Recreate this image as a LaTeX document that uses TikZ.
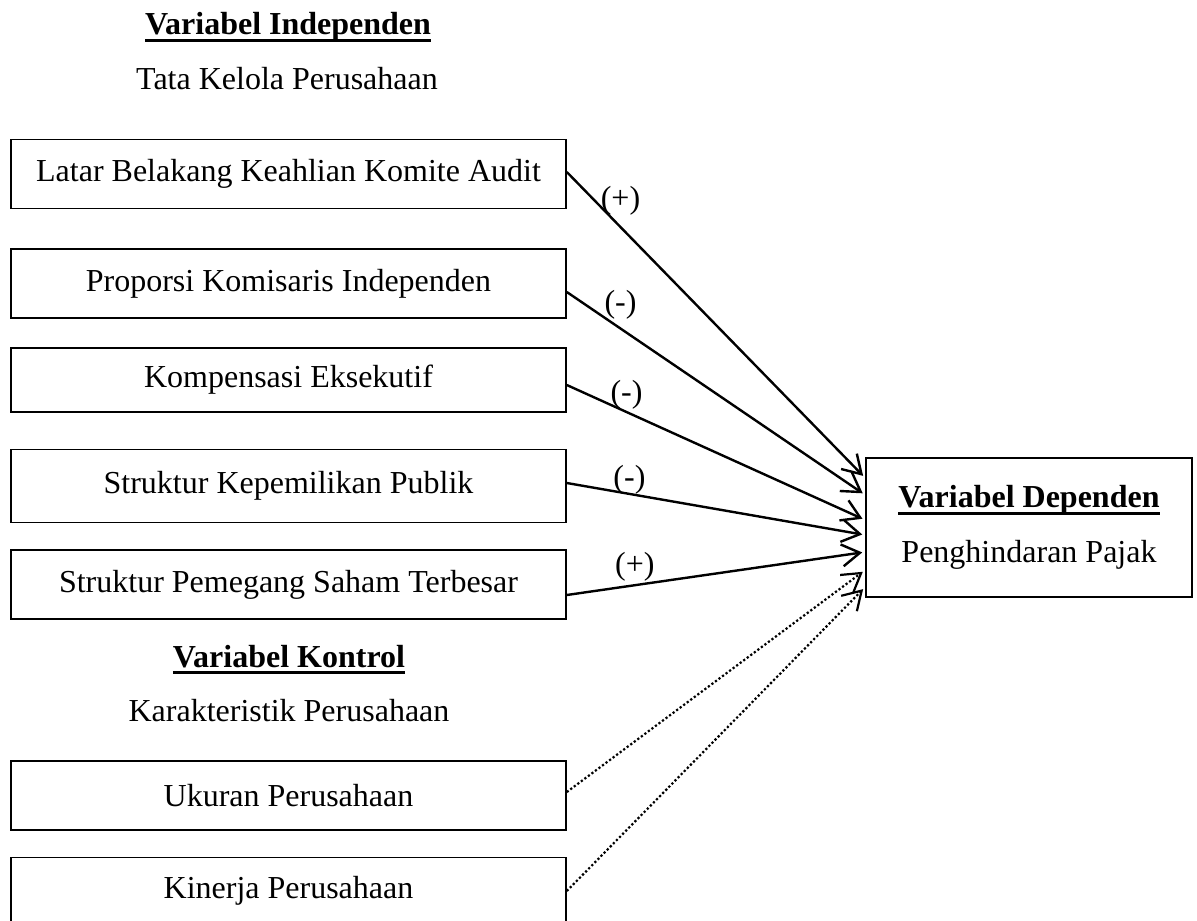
\documentclass[tikz,border=0pt]{standalone}
\usepackage{fontspec}
\setmainfont{Liberation Serif}
\usetikzlibrary{arrows.meta}

% underline sitting just below the baseline
\newcommand{\uword}[1]{\setbox0\hbox{#1}\rlap{\vrule width\wd0 height -2.2pt depth 3.5pt}\box0}

\tikzset{
  varbox/.style={draw,line width=0.8pt,minimum width=277.5pt,minimum height=34.5pt,inner sep=0pt},
  link/.style={-{Straight Barb[length=9pt,width=11pt]},line width=1.2pt,shorten >=1.5pt},
  ctrl/.style={link,line width=1.1pt,dash pattern=on 1.1pt off 1.1pt},
  sign/.style={inner sep=0pt},
}

\begin{document}
\begin{tikzpicture}[x=0.5pt,y=-0.5pt,font=\fontsize{16}{19}\selectfont]
\useasboundingbox (0,0) rectangle (1197,920);

% headings
\node[anchor=base] (indep) at (288,35) {\uword{\textbf{Variabel Independen}}};
\node[anchor=base] (tkp)   at (287,90) {Tata Kelola Perusahaan};
\node[anchor=base] (kontrol) at (289,667) {\uword{\textbf{Variabel Kontrol}}};
\node[anchor=base] (karak)   at (289,721) {Karakteristik Perusahaan};

% variables
\node[varbox] (audit) at (288.5,174) {Latar Belakang Keahlian Komite Audit};
\node[varbox] (komis) at (288.5,283.5) {Proporsi Komisaris Independen};
\node[varbox,minimum height=32pt] (kompen) at (288.5,380) {Kompensasi Eksekutif};
\node[varbox,minimum height=36.5pt] (publik) at (288.5,486) {Struktur Kepemilikan Publik};
\node[varbox] (saham) at (288.5,584.5) {Struktur Pemegang Saham Terbesar};
\node[varbox] (ukuran) at (288.5,795.5) {Ukuran Perusahaan};
\node[varbox,minimum height=33.5pt] (kinerja) at (288.5,891) {Kinerja Perusahaan};

\node[draw,line width=0.8pt,minimum width=163pt,minimum height=69.5pt,align=center,
      font=\fontsize{16}{27.5}\selectfont] (dep) at (1029,527.5)
  {\uword{\textbf{Variabel Dependen}}\\Penghindaran Pajak};

% hypotheses
\draw[link] ([yshift=1pt]audit.east) -- node[sign,pos=0.18,yshift=13pt] {(+)} ([yshift=24.75pt]dep.west);
\draw[link] ([yshift=-4.25pt]komis.east) -- node[sign,pos=0.18,yshift=12pt] {(-)} ([yshift=16.25pt]dep.west);
\draw[link] ([yshift=-2.5pt]kompen.east) -- node[sign,pos=0.2,yshift=8.5pt] {(-)} ([yshift=3.75pt]dep.west);
\draw[link] ([yshift=1.5pt]publik.east) -- node[sign,pos=0.21,yshift=7pt] {(-)} ([yshift=-3.75pt]dep.west);
\draw[link] ([yshift=-5.25pt]saham.east) -- node[sign,pos=0.228,yshift=9pt] {(+)} ([yshift=-12.25pt]dep.west);

% control variables
\draw[ctrl] ([yshift=1.75pt]ukuran.east) -- ([yshift=-21.25pt]dep.west);
\draw[ctrl] (kinerja.east) -- ([yshift=-29.75pt]dep.west);
\end{tikzpicture}
\end{document}
